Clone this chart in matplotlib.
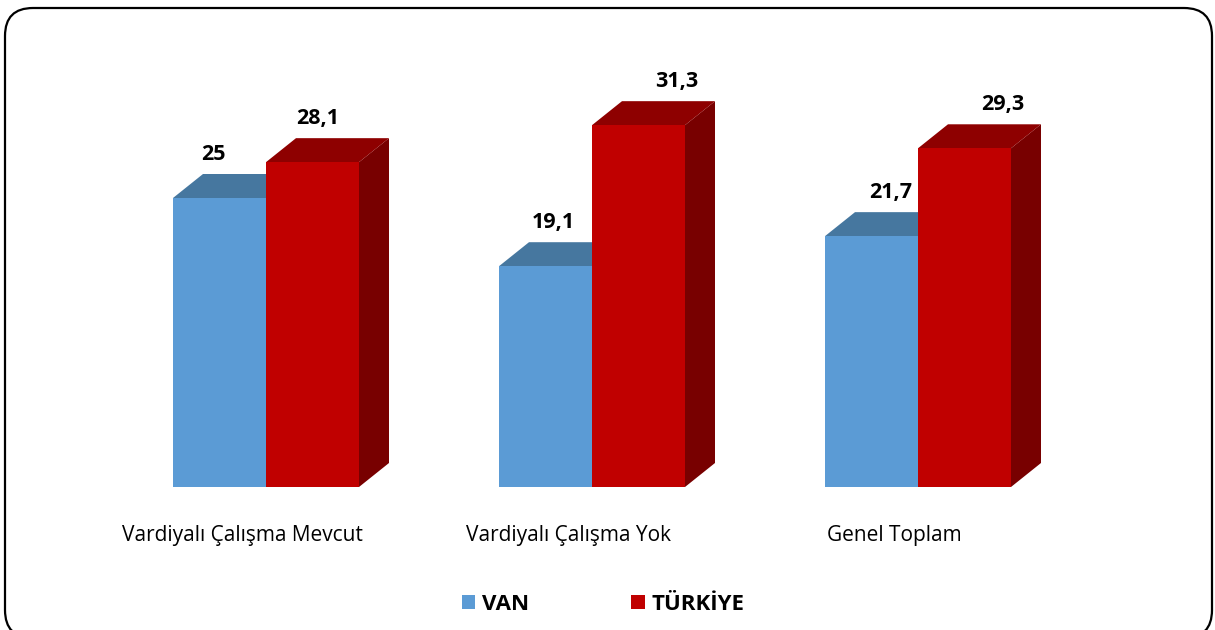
import matplotlib.pyplot as plt
from matplotlib.patches import Polygon, Rectangle, FancyBboxPatch, Patch

plt.rcParams['font.family'] = ['Open Sans', 'DejaVu Sans']

categories = ["Vardiyalı Çalışma Mevcut", "Vardiyalı Çalışma Yok", "Genel Toplam"]
van = [25, 19.1, 21.7]
turkiye = [28.1, 31.3, 29.3]
series_names = ["VAN", "TÜRKİYE"]
value_labels_van = ["25", "19,1", "21,7"]
value_labels_tr = ["28,1", "31,3", "29,3"]

W, H = 1215, 630
fig = plt.figure(figsize=(W / 100, H / 100), dpi=100)

# axes: baseline at 487 px, 11.56 px per unit; bar width 93 px
px_y = 11.56
px_x = 93.0
base_px = 487
ax = fig.add_axes([0, (H - base_px) / H, 1, 35 * px_y / H])
ax.set_ylim(0, 35)
ax.set_xlim(-266 / px_x, (W - 266) / px_x)
ax.axis("off")

gap = 326 / px_x          # group spacing
w = 1.0
dx = 30 / px_x            # 3d depth
dy = 24 / px_y

van_cols = ("#5B9BD5", "#46779F", "#3A6489")
tr_cols = ("#C00000", "#8E0000", "#780000")


def bar3d(x0, h, cols):
    front, top, side = cols
    ax.add_patch(Polygon([(x0 + w, 0), (x0 + w + dx, dy), (x0 + w + dx, h + dy), (x0 + w, h)],
                         closed=True, facecolor=side, edgecolor="none"))
    ax.add_patch(Polygon([(x0, h), (x0 + dx, h + dy), (x0 + w + dx, h + dy), (x0 + w, h)],
                         closed=True, facecolor=top, edgecolor="none"))
    ax.add_patch(Rectangle((x0, 0), w, h, facecolor=front, edgecolor="none"))


# label shifts (px) to mimic the perspective of the original
van_shift = [-6, 7.5, 19.5]
tr_shift = [5.5, 38.5, 38.5]

for i, cat in enumerate(categories):
    c = i * gap
    bar3d(c - w, van[i], van_cols)
    bar3d(c, turkiye[i], tr_cols)
    ax.annotate(value_labels_van[i], (c - w / 2, van[i] + dy), xytext=(van_shift[i], 20),
                textcoords="offset pixels", ha="center", va="center",
                fontsize=15.5, fontweight="bold")
    ax.annotate(value_labels_tr[i], (c + w / 2, turkiye[i] + dy), xytext=(tr_shift[i], 20),
                textcoords="offset pixels", ha="center", va="center",
                fontsize=15.5, fontweight="bold")
    ax.annotate(cat, (c, 0), xytext=(-24, -49), textcoords="offset pixels",
                ha="center", va="center", fontsize=15)

handles = [Patch(facecolor=van_cols[0]), Patch(facecolor=tr_cols[0])]
fig.legend(handles, series_names, loc="center", bbox_to_anchor=(603 / W, (H - 604) / H),
           ncol=2, frameon=False, handlelength=0.6, handleheight=0.6,
           handletextpad=0.3, columnspacing=4.6, prop={"weight": "bold", "size": 16})

border = FancyBboxPatch((5, -8), 1207, 630, boxstyle="round,pad=0,rounding_size=28",
                        transform=None, facecolor="none", edgecolor="black", linewidth=1.6)
fig.patches.append(border)

fig.savefig("out.png", dpi=100)
